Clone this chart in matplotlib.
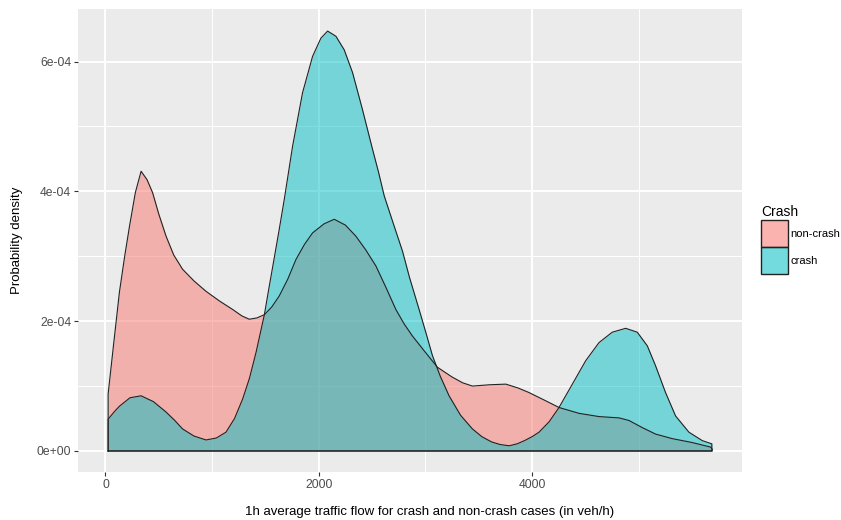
import matplotlib
matplotlib.use("Agg")
import matplotlib.pyplot as plt
from matplotlib.patches import Patch
from matplotlib.colors import to_rgba
import numpy as np

plt.rcParams['font.family'] = ['Liberation Sans', 'DejaVu Sans']

# density curves (x in veh/h, y in units of 1e-4)
noncrash_x = [25, 80, 131, 180, 225, 280, 334, 390, 442, 500, 568, 640, 723, 830, 943,
              1070, 1193, 1280, 1349, 1420, 1490, 1560, 1630, 1710, 1786, 1865, 1942,
              2050, 2145, 2250, 2348, 2440, 2536, 2630, 2723, 2800, 2879, 3000, 3113,
              3250, 3350, 3441, 3600, 3754, 3870, 3972, 4120, 4253, 4440, 4628, 4815,
              4909, 5034, 5159, 5315, 5502, 5674, 5689]
noncrash_y = [0.88, 1.70, 2.45, 3.00, 3.46, 3.98, 4.31, 4.18, 3.98, 3.65, 3.31, 3.02, 2.80,
              2.62, 2.46, 2.31, 2.18, 2.08, 2.03, 2.05, 2.10, 2.22, 2.39, 2.65, 2.95, 3.18,
              3.36, 3.50, 3.57, 3.48, 3.31, 3.10, 2.85, 2.52, 2.18, 1.96, 1.77, 1.52, 1.29,
              1.14, 1.05, 1.00, 1.02, 1.03, 0.97, 0.90, 0.78, 0.67, 0.58, 0.53, 0.51,
              0.47, 0.36, 0.26, 0.19, 0.13, 0.06, 0.03]

crash_x = [25, 80, 131, 230, 334, 450, 568, 650, 723, 830, 943, 1040, 1130, 1210, 1286,
           1350, 1412, 1490, 1536, 1580, 1630, 1677, 1755, 1848, 1942, 2020, 2083, 2161,
           2239, 2317, 2410, 2504, 2560, 2614, 2700, 2785, 2850, 2941, 3000, 3066, 3140,
           3222, 3330, 3441, 3530, 3620, 3700, 3785, 3860, 3930, 4000, 4066, 4160, 4253,
           4378, 4503, 4628, 4752, 4878, 4987, 5081, 5159, 5252, 5346, 5471, 5596, 5686]
crash_y = [0.49, 0.60, 0.69, 0.82, 0.85, 0.76, 0.60, 0.47, 0.34, 0.23, 0.17, 0.20, 0.29,
           0.50, 0.80, 1.12, 1.52, 2.10, 2.54, 2.95, 3.42, 3.88, 4.70, 5.52, 6.08, 6.36,
           6.47, 6.39, 6.18, 5.83, 5.26, 4.65, 4.30, 3.93, 3.50, 3.08, 2.68, 2.18, 1.85,
           1.47, 1.15, 0.85, 0.55, 0.34, 0.22, 0.14, 0.10, 0.08, 0.11, 0.16, 0.22, 0.29,
           0.45, 0.67, 1.03, 1.39, 1.67, 1.83, 1.89, 1.83, 1.62, 1.31, 0.90, 0.54, 0.29,
           0.16, 0.11]

groups = ["non-crash", "crash"]
colors = ["#F8766D", "#00BFC4"]

fig = plt.figure(figsize=(8.41, 5.2), dpi=100)
ax = fig.add_axes([0.0927, 0.0923, 0.7896, 0.8904])
ax.set_facecolor("#EBEBEB")

for xs, ys, col in [(noncrash_x, noncrash_y, colors[0]), (crash_x, crash_y, colors[1])]:
    xs = np.array(xs)
    ys = np.array(ys) * 1e-4
    ax.fill_between(xs, 0, ys, color=col, alpha=0.5, linewidth=0, zorder=3)
    # outline like ggplot: whole polygon including base
    px = np.concatenate([[xs[0]], xs, [xs[-1], xs[0]]])
    py = np.concatenate([[0], ys, [0, 0]])
    ax.plot(px, py, color="#222222", lw=0.8, zorder=4, solid_joinstyle="round")

ax.set_xlim(-258, 5969)
ax.set_ylim(-0.324e-4, 6.81e-4)

ax.set_xticks([0, 2000, 4000])
ax.set_xticks([1000, 3000, 5000], minor=True)
ax.set_yticks([0, 2e-4, 4e-4, 6e-4])
ax.set_yticklabels(["0e+00", "2e-04", "4e-04", "6e-04"])
ax.set_yticks([1e-4, 3e-4, 5e-4], minor=True)

ax.grid(which="major", color="white", lw=1.4, zorder=0)
ax.grid(which="minor", color="white", lw=0.7, zorder=0)
ax.set_axisbelow(True)
for s in ax.spines.values():
    s.set_visible(False)
ax.tick_params(which="major", length=2.75, width=0.8, color="#333333",
               labelcolor="#4D4D4D", labelsize=8.7, pad=2.2)
ax.tick_params(which="minor", length=0)

ax.set_xlabel("1h average traffic flow for crash and non-crash cases (in veh/h)",
              fontsize=9.5, va="center")
ax.xaxis.set_label_coords(0.53, -0.086)
ax.set_ylabel("Probability density", fontsize=9.5, labelpad=10)

# legend keys: half-transparent fill, solid dark outline
handles = [Patch(facecolor=to_rgba(c, 0.55), edgecolor="#222222", lw=1.0) for c in colors]
leg = fig.legend(handles, groups, title="Crash", loc="upper left",
                 bbox_to_anchor=(0.905, 0.605), frameon=False, fontsize=8,
                 title_fontsize=10, handlelength=2.4, handleheight=3.35,
                 labelspacing=0.05, handletextpad=0.25, borderpad=0, borderaxespad=0)
leg._legend_box.align = "left"

fig.savefig("out.png", dpi=100)
